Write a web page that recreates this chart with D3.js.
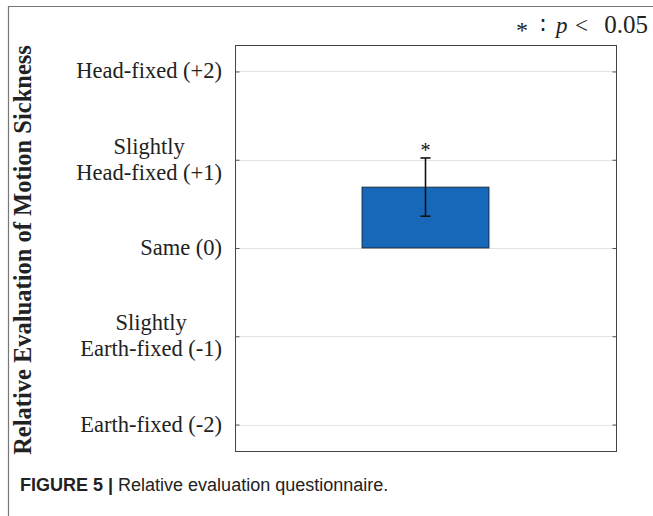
<!DOCTYPE html>
<html>
<head>
<meta charset="utf-8">
<script src="https://cdn.jsdelivr.net/npm/d3@7"></script>
<style>
  body { margin: 0; background: #fff; }
</style>
</head>
<body>
<div id="chart"></div>
<script>
// values
var categories = ['Relative'];
var means = [0.69];
var errors = [0.33];
var sigMarks = ['*'];
var tickValues = [2, 1, 0, -1, -2];
var tickLabels = [['Head-fixed (+2)'], ['Slightly', 'Head-fixed (+1)'], ['Same (0)'], ['Slightly', 'Earth-fixed (-1)'], ['Earth-fixed (-2)']];

var width = 653, height = 516;
var margin = {left: 235, right: 37, top: 45, bottom: 65};

var svg = d3.select('#chart').append('svg')
    .attr('width', width)
    .attr('height', height);

// outer frame (page edges)
svg.append('line').attr('x1', 8).attr('x2', width).attr('y1', 6.5).attr('y2', 6.5)
    .attr('stroke', '#777').attr('stroke-width', 1.2);
svg.append('line').attr('x1', 8.5).attr('x2', 8.5).attr('y1', 6).attr('y2', height)
    .attr('stroke', '#777').attr('stroke-width', 1.2);

var x = d3.scaleBand()
    .domain(categories)
    .range([margin.left, width - margin.right])
    .padding(0.5);

var y = d3.scaleLinear()
    .domain([-2.3, 2.3])
    .range([height - margin.bottom, margin.top]);

var g = svg.append('g');

// grid lines
g.selectAll('.grid')
    .data(tickValues)
    .enter()
    .append('line')
      .attr('x1', margin.left)
      .attr('x2', width - margin.right)
      .attr('y1', function(d) { return Math.round(y(d)) + 0.5; })
      .attr('y2', function(d) { return Math.round(y(d)) + 0.5; })
      .attr('stroke', '#e3e3e3')
      .attr('stroke-width', 1);

// bars
g.selectAll('.bar')
    .data(means)
    .enter()
    .append('rect')
      .attr('x', function(d, i) { return x(categories[i]); })
      .attr('y', function(d) { return y(Math.max(0, d)); })
      .attr('width', x.bandwidth())
      .attr('height', function(d) { return Math.abs(y(d) - y(0)); })
      .attr('fill', '#1868b9')
      .attr('stroke', '#1a1a1a')
      .attr('stroke-width', 0.8);

// error bars
var cx = function(i) { return x(categories[i]) + x.bandwidth() / 2; };
means.forEach(function(m, i) {
  var e = errors[i];
  g.append('line').attr('x1', cx(i)).attr('x2', cx(i))
      .attr('y1', y(m + e)).attr('y2', y(m - e))
      .attr('stroke', '#111').attr('stroke-width', 1.6);
  [m + e, m - e].forEach(function(v) {
    g.append('line').attr('x1', cx(i) - 5).attr('x2', cx(i) + 5)
        .attr('y1', y(v)).attr('y2', y(v))
        .attr('stroke', '#111').attr('stroke-width', 1.6);
  });
  g.append('text')
      .attr('x', cx(i))
      .attr('y', y(m + e) - 1)
      .attr('text-anchor', 'middle')
      .attr('font-family', 'Liberation Serif, serif')
      .attr('font-size', 20)
      .attr('fill', '#111')
      .text(sigMarks[i]);
});

// plot box
svg.append('rect')
    .attr('x', margin.left + 0.5)
    .attr('y', margin.top + 0.5)
    .attr('width', width - margin.left - margin.right)
    .attr('height', height - margin.top - margin.bottom)
    .attr('fill', 'none')
    .attr('stroke', '#444')
    .attr('stroke-width', 1);

// y axis ticks (left and right, inside)
svg.append('g')
    .attr('transform', 'translate(' + (margin.left + 0.5) + ',0)')
    .call(d3.axisLeft(y).tickValues(tickValues).tickSize(-4).tickFormat(''))
    .call(function(s) { s.select('.domain').remove(); s.selectAll('line').attr('stroke', '#555'); });
svg.append('g')
    .attr('transform', 'translate(' + (width - margin.right + 0.5) + ',0)')
    .call(d3.axisRight(y).tickValues(tickValues).tickSize(-4).tickFormat(''))
    .call(function(s) { s.select('.domain').remove(); s.selectAll('line').attr('stroke', '#555'); });

// tick labels, multi-line, centred on the tick
var labels = svg.append('g')
    .attr('font-family', 'Liberation Serif, serif')
    .attr('font-size', 22.5)
    .attr('fill', '#222');
tickValues.forEach(function(v, i) {
  var lines = tickLabels[i];
  var n = lines.length;
  var t = labels.append('text')
      .attr('y', y(v) + 7 - (n - 1) * 13)
      .attr('text-anchor', 'end');
  lines.forEach(function(l, j) {
    t.append('tspan')
        .attr('x', 222)
        .attr('dy', j == 0 ? 0 : 26)
        .attr('text-anchor', n > 1 && j == 0 ? 'middle' : 'end')
        .text(l);
  });
});
// centre the "Slightly" lines over the line below
labels.selectAll('text').each(function() {
  var spans = d3.select(this).selectAll('tspan').nodes();
  if (spans.length > 1) {
    var w = spans[spans.length - 1].getComputedTextLength();
    d3.select(spans[0]).attr('x', 222 - w / 2);
  }
});

// y axis title
svg.append('text')
    .attr('transform', 'translate(31,' + 250 + ') rotate(-90)')
    .attr('text-anchor', 'middle')
    .attr('font-family', 'Liberation Serif, serif')
    .attr('font-weight', 'bold')
    .attr('font-size', 24.5)
    .attr('fill', '#222')
    .text('Relative Evaluation of Motion Sickness');

// significance note
var note = svg.append('g')
    .attr('font-family', 'Liberation Serif, serif')
    .attr('font-size', 23)
    .attr('fill', '#222');
note.append('text').attr('x', 516).attr('y', 38).attr('font-size', 24).text('*');
note.append('text').attr('x', 540).attr('y', 33).text('\u2236');
note.append('text').attr('x', 556).attr('y', 33).attr('font-style', 'italic').text('p');
note.append('text').attr('x', 575).attr('y', 33).text('<');
note.append('text').attr('x', 648).attr('y', 33).attr('text-anchor', 'end')
    .attr('font-size', 25).text('0.05');

// caption
var cap = svg.append('text')
    .attr('x', 20)
    .attr('y', 491)
    .attr('font-family', 'Liberation Sans, Arial, sans-serif')
    .attr('font-size', 18)
    .attr('fill', '#222');
cap.append('tspan').attr('font-weight', 'bold').text('FIGURE 5 | ');
cap.append('tspan').text('Relative evaluation questionnaire.');
</script>
</body>
</html>
